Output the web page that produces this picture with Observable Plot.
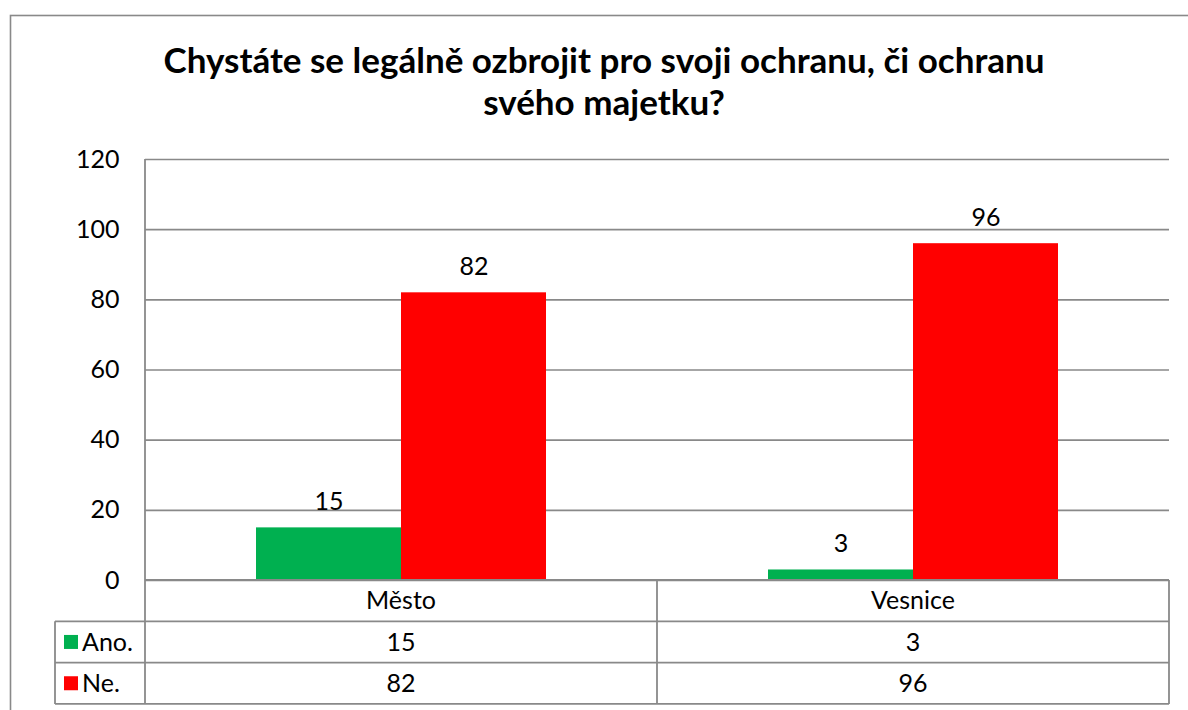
<!DOCTYPE html>
<html>
<head>
<meta charset="utf-8">
<script src="https://cdn.jsdelivr.net/npm/d3@7"></script>
<script src="https://cdn.jsdelivr.net/npm/@observablehq/plot@0.6"></script>
<style>
  html, body { margin: 0; padding: 0; background: #fff; }
  #chart svg { display: block; }
</style>
</head>
<body>
<div id="chart"></div>
<script>
// ---- data ----
const titleLines = ["Chystáte se legálně ozbrojit pro svoji ochranu, či ochranu", "svého majetku?"];
const categories = ["Město", "Vesnice"];
const series = ["Ano.", "Ne."];
const anoValues = [15, 3];
const neValues = [82, 96];
const yTicks = [0, 20, 40, 60, 80, 100, 120];

// ---- styles ----
const FONT = "Lato, 'Open Sans', sans-serif";
const FS = 25;
const colors = ["#00B050", "#FF0000"];
const lineColor = "#898989";
const W = 1188, H = 710;
const mL = 144, mR = 19, mT = 159, mB = H - 580;
const rowH = 41.3;

const seriesValues = [anoValues, neValues];
const data = [];
series.forEach((s, si) => categories.forEach((c, ci) => data.push({category: c, series: s, value: seriesValues[si][ci]})));

const plot = Plot.plot({
  width: W,
  height: H,
  marginLeft: mL,
  marginRight: mR,
  marginTop: mT,
  marginBottom: mB,
  style: {fontFamily: FONT, fontSize: FS + "px", color: "#000", background: "transparent"},
  fx: {domain: categories, padding: 0, axis: null, label: null},
  x: {domain: series, paddingInner: 0, paddingOuter: 0.755, axis: null, label: null},
  y: {domain: [0, 120], ticks: yTicks, tickSize: 0, tickPadding: 26, label: null, tickFormat: d => String(d)},
  color: {domain: series, range: colors},
  marks: [
    Plot.ruleY(yTicks, {stroke: lineColor, strokeWidth: 1.6}),
    Plot.barY(data, {fx: "category", x: "series", y: "value", fill: "series"}),
    Plot.text(data, {fx: "category", x: "series", y: "value", text: d => String(d.value), dy: -26, fontSize: FS, fill: "#000"})
  ]
});

const svg = d3.select(plot);
const fx = plot.scale("fx");
const yS = plot.scale("y");
const left = fx.apply(categories[0]);
const right = fx.apply(categories[categories.length - 1]) + fx.bandwidth;
const y0 = yS.apply(0);

// outer chart border
svg.insert("rect", ":first-child")
  .attr("x", 10.5).attr("y", 15.5).attr("width", W + 20).attr("height", H + 20)
  .attr("fill", "none").attr("stroke", lineColor).attr("stroke-width", 1.6);

// title
const t = svg.append("text")
  .attr("text-anchor", "middle")
  .attr("font-family", FONT)
  .attr("font-weight", "bold")
  .attr("font-size", 35)
  .attr("fill", "#000");
titleLines.forEach((line, i) => {
  t.append("tspan").attr("x", 604).attr("y", 73 + i * 42).text(line);
});

// data table
const g = svg.append("g").attr("stroke", lineColor).attr("stroke-width", 1.8).attr("fill", "none");
const tableLeft = 55;
const rTop = y0, r1 = y0 + rowH, r2 = y0 + 2 * rowH, r3 = y0 + 3 * rowH;
g.append("line").attr("x1", left).attr("x2", right).attr("y1", rTop).attr("y2", rTop);
[r1, r2, r3].forEach(yy => g.append("line").attr("x1", tableLeft).attr("x2", right).attr("y1", yy).attr("y2", yy));
g.append("line").attr("x1", left).attr("x2", left).attr("y1", yS.apply(120)).attr("y2", r3);
categories.forEach(c => {
  const xe = fx.apply(c) + fx.bandwidth;
  g.append("line").attr("x1", xe).attr("x2", xe).attr("y1", rTop).attr("y2", r3);
});
g.append("line").attr("x1", tableLeft).attr("x2", tableLeft).attr("y1", r1).attr("y2", r3);

const txt = svg.append("g").attr("font-family", FONT).attr("font-size", FS).attr("fill", "#000");
categories.forEach((c, ci) => {
  const cx = fx.apply(c) + fx.bandwidth / 2;
  txt.append("text").attr("x", cx).attr("y", (rTop + r1) / 2).attr("dy", "0.35em").attr("text-anchor", "middle").text(c);
  seriesValues.forEach((vals, si) => {
    const yy = y0 + rowH * (si + 1.5);
    txt.append("text").attr("x", cx).attr("y", yy).attr("dy", "0.35em").attr("text-anchor", "middle").text(String(vals[ci]));
  });
});
series.forEach((s, si) => {
  const yy = y0 + rowH * (si + 1.5);
  svg.append("rect").attr("x", 64).attr("y", yy - 7).attr("width", 14).attr("height", 14).attr("fill", colors[si]);
  txt.append("text").attr("x", 82).attr("y", yy).attr("dy", "0.35em").attr("text-anchor", "start").text(s);
});

document.getElementById("chart").appendChild(plot);
</script>
</body>
</html>
